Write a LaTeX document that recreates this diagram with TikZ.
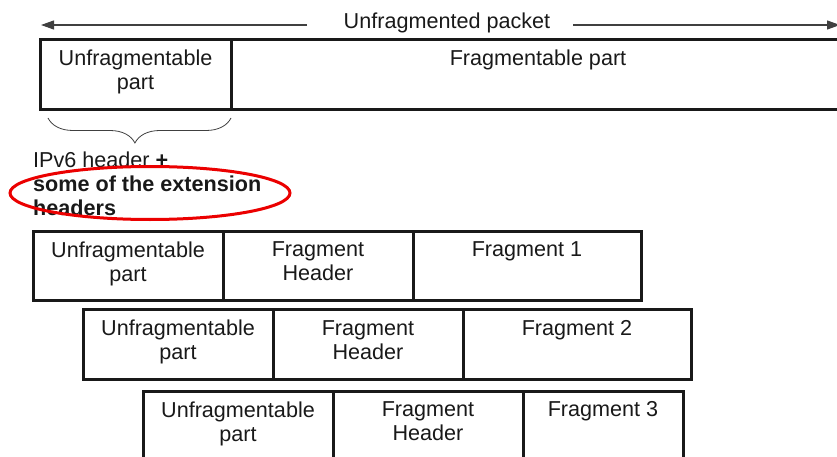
\documentclass[tikz,border=0pt]{standalone}
\usepackage{fontspec}
\setmainfont{Liberation Sans}
\usetikzlibrary{arrows.meta,calc,decorations.pathreplacing,shapes.geometric}
\definecolor{ringred}{RGB}{235,0,0}
\begin{document}
\begin{tikzpicture}[x=1pt,y=-1pt,
  cell/.style={draw=black!90, line width=3pt, anchor=north west, inner sep=0pt, outer sep=0pt, minimum height=70pt},
  txt/.style={font=\fontsize{21.6}{24}\selectfont, align=center, inner sep=0pt, anchor=north, text=black!90},
  dimarrow/.style={line width=1.2pt, draw=black!75, -{Triangle[length=13pt,width=9pt]}},
  bracestyle/.style={line width=0.8pt, draw=black!75, decorate, decoration={brace, amplitude=25pt, aspect=0.525}},
  mark ring/.style={draw=ringred, line width=3pt, ellipse, inner sep=0pt, minimum width=280pt, minimum height=53pt}
]
\useasboundingbox (0,0) rectangle (837,457);

% top arrow
\node[font=\fontsize{21.6}{24}\selectfont, inner sep=0pt, anchor=base, text=black!90] (lab) at (447,29) {Unfragmented packet};
\coordinate (ls) at (307,25);
\coordinate (la) at (41,25);
\coordinate (rs) at (573,25);
\coordinate (ra) at (840,25);
\draw[dimarrow] (ls) -- (la);
\draw[dimarrow] (rs) -- (ra);

% unfragmented packet
\node[cell, minimum width=191pt] (u0) at (40,40) {};
\node[cell, minimum width=614pt] (f0) at (231,40) {};
\node[txt] (u0t) at ($(u0.north)+(0,10)$) {Unfragmentable\\part};
\node[txt] (f0t) at ($(f0.north)+(0,10)$) {Fragmentable part};

% brace
\coordinate (br) at (231,118);
\coordinate (bl) at (48,118);
\draw[bracestyle] (br) -- (bl);

% IPv6 text
\node[font=\fontsize{21.6}{24}\selectfont, align=left, inner sep=0pt, anchor=north west, text=black!90] (ipv6) at (33,151.4)
  {IPv6 header \textbf{+}\\\textbf{some of the extension}\\\textbf{headers}};
\node[mark ring] (ring) at (150,193) {};

% row 1
\node[cell, minimum width=190pt, minimum height=69pt] (u1) at (33,231) {};
\node[cell, minimum width=190pt, minimum height=69pt] (h1) at (223,231) {};
\node[cell, minimum width=228pt, minimum height=69pt] (g1) at (413,231) {};
\node[txt] (u1t) at ($(u1.north)+(0,10.5)$) {Unfragmentable\\part};
\node[txt] (h1t) at ($(h1.north)+(0,10.5)$) {Fragment\\Header};
\node[txt] (g1t) at ($(g1.north)+(0,10.5)$) {Fragment 1};

% row 2
\node[cell, minimum width=190pt] (u2) at (83,309) {};
\node[cell, minimum width=190pt] (h2) at (273,309) {};
\node[cell, minimum width=228pt] (g2) at (463,309) {};
\node[txt] (u2t) at ($(u2.north)+(0,11)$) {Unfragmentable\\part};
\node[txt] (h2t) at ($(h2.north)+(0,11)$) {Fragment\\Header};
\node[txt] (g2t) at ($(g2.north)+(0,11)$) {Fragment 2};

% row 3
\node[cell, minimum width=190pt] (u3) at (143,391) {};
\node[cell, minimum width=190pt] (h3) at (333,391) {};
\node[cell, minimum width=160pt] (g3) at (523,391) {};
\node[txt] (u3t) at ($(u3.north)+(0,10.5)$) {Unfragmentable\\part};
\node[txt] (h3t) at ($(h3.north)+(0,10.5)$) {Fragment\\Header};
\node[txt] (g3t) at ($(g3.north)+(0,10.5)$) {Fragment 3};
\end{tikzpicture}
\end{document}
